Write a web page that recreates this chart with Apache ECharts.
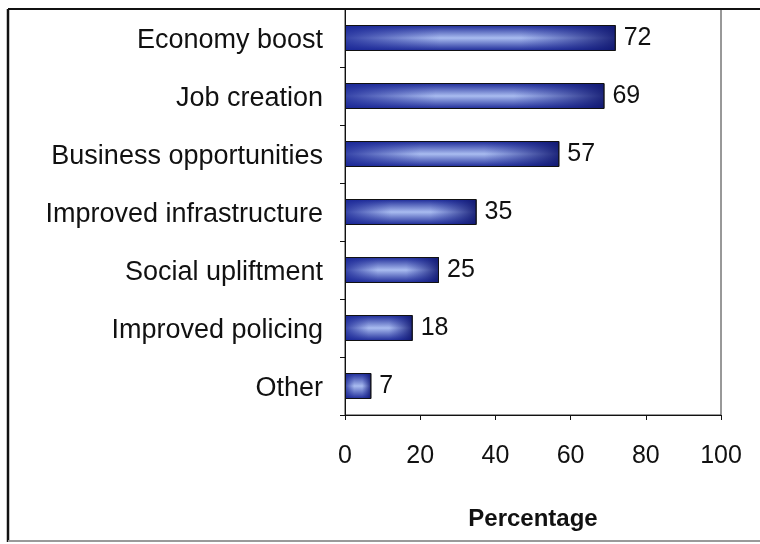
<!DOCTYPE html>
<html>
<head>
<meta charset="utf-8">
<script src="https://cdn.jsdelivr.net/npm/echarts@6/dist/echarts.min.js"></script>
<style>
  html, body { margin: 0; padding: 0; background: #ffffff; }
  #chart { width: 760px; height: 544px; }
</style>
</head>
<body>
<div id="chart"></div>
<script>
// Perceived benefits, top to bottom
const categories = [
  'Economy boost',
  'Job creation',
  'Business opportunities',
  'Improved infrastructure',
  'Social upliftment',
  'Improved policing',
  'Other'
];
const percentages = [72, 69, 57, 35, 25, 18, 7];
const xTicks = [0, 20, 40, 60, 80, 100];
const axisTitle = 'Percentage';

const FONT = '"Liberation Sans", Arial, sans-serif';

// Vertical shading: dark edges, pale centre
const barFill = new echarts.graphic.LinearGradient(0, 0, 0, 1, [
  { offset: 0, color: '#1a2796' },
  { offset: 0.5, color: '#a9bcf0' },
  { offset: 1, color: '#1a2796' }
]);
// Horizontal darkening toward the bar ends, laid over the vertical shading
const endShade = new echarts.graphic.LinearGradient(0, 0, 1, 0, [
  { offset: 0, color: 'rgba(25,38,150,0.8)' },
  { offset: 0.35, color: 'rgba(25,38,150,0)' },
  { offset: 0.65, color: 'rgba(25,38,150,0)' },
  { offset: 1, color: 'rgba(15,22,110,0.9)' }
]);

const chart = echarts.init(document.getElementById('chart'), null, { renderer: 'canvas' });

chart.setOption({
  backgroundColor: '#ffffff',
  animation: false,
  textStyle: { fontFamily: FONT },
  grid: {
    left: 345, right: 39, top: 9, bottom: 129,
    show: true, borderColor: '#333333', borderWidth: 1, backgroundColor: 'transparent'
  },
  xAxis: {
    type: 'value',
    min: xTicks[0],
    max: xTicks[xTicks.length - 1],
    interval: xTicks[1] - xTicks[0],
    name: axisTitle,
    nameLocation: 'middle',
    nameGap: 92,
    nameTextStyle: { fontFamily: FONT, fontSize: 24, fontWeight: 'bold', color: '#111' },
    axisLine: { show: true, lineStyle: { color: '#111', width: 1 } },
    axisTick: { show: true, length: 5, lineStyle: { color: '#111' } },
    axisLabel: { margin: 29, fontFamily: FONT, fontSize: 25, color: '#111' },
    splitLine: { show: false }
  },
  yAxis: {
    type: 'category',
    data: categories,
    inverse: true,
    axisLine: { show: true, lineStyle: { color: '#111', width: 1 } },
    axisTick: { show: true, length: 5, lineStyle: { color: '#111' } },
    axisLabel: {
      margin: 22,
      formatter: (v) => '{c|' + v + '}',
      rich: {
        c: { fontFamily: FONT, fontSize: 27, color: '#111', padding: [6, 0, 0, 0] }
      }
    }
  },
  series: [
    {
      type: 'bar',
      data: percentages,
      barWidth: 26,
      itemStyle: { color: barFill, borderColor: '#111', borderWidth: 1 },
      z: 2
    },
    {
      type: 'bar',
      data: percentages,
      barWidth: 26,
      barGap: '-100%',
      itemStyle: { color: endShade, borderColor: '#111', borderWidth: 1 },
      label: {
        show: true, position: 'right', distance: 8,
        fontFamily: FONT, fontSize: 25, color: '#111'
      },
      z: 3
    }
  ],
  graphic: [
    { type: 'line', shape: { x1: 8, y1: 9, x2: 760, y2: 9 }, style: { stroke: '#111', lineWidth: 2 }, z: 10 },
    { type: 'line', shape: { x1: 8, y1: 9, x2: 8, y2: 542 }, style: { stroke: '#111', lineWidth: 2.5 }, z: 10 },
    { type: 'line', shape: { x1: 8, y1: 541, x2: 760, y2: 541 }, style: { stroke: '#9a9a9a', lineWidth: 2 }, z: 10 }
  ]
});
</script>
</body>
</html>
